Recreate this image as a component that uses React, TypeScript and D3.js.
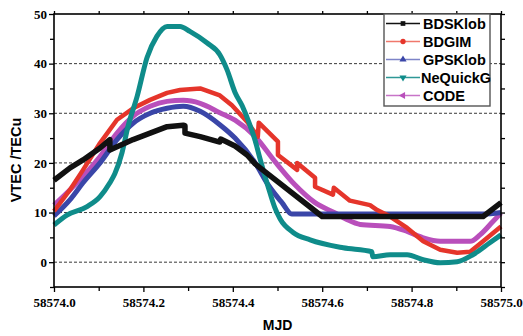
import * as d3 from 'd3'
import { useEffect, useRef } from 'react'

// MJD offsets from 58574.0 and VTEC (TECu)
const MJD0 = 58574;

const bdsTime = [0, 0.036, 0.065, 0.103, 0.125, 0.125, 0.177, 0.215, 0.253, 0.289, 0.293, 0.293, 0.327, 0.371, 0.373, 0.405, 0.432, 0.450, 0.461, 0.600, 0.960, 1.0];
const bdsTec = [16.5, 19.0, 20.6, 23.0, 24.7, 22.6, 24.7, 26.0, 27.3, 27.6, 27.5, 26.0, 25.3, 24.2, 24.8, 23.4, 21.6, 19.8, 19.0, 9.2, 9.2, 12.0];

const gimTime = [0, 0.036, 0.065, 0.103, 0.141, 0.177, 0.215, 0.253, 0.282, 0.327, 0.371, 0.398, 0.432, 0.456, 0.458, 0.501, 0.501, 0.544, 0.544, 0.584, 0.584, 0.624, 0.626, 0.662, 0.707, 0.723, 0.752, 0.790, 0.826, 0.864, 0.902, 0.931, 0.960, 1.0];
const gimTec = [10.3, 14.6, 18.6, 24.0, 28.7, 31.0, 32.7, 34.1, 34.7, 35.0, 33.6, 31.6, 28.3, 25.3, 28.1, 24.3, 21.6, 18.6, 20.0, 17.0, 15.2, 13.6, 15.0, 12.4, 11.5, 10.5, 9.2, 6.9, 4.2, 2.5, 1.9, 2.1, 4.2, 7.2];

const gpsTime = [0, 0.036, 0.065, 0.103, 0.141, 0.177, 0.215, 0.253, 0.289, 0.327, 0.371, 0.405, 0.450, 0.479, 0.510, 0.532, 0.960, 1.0];
const gpsTec = [9.3, 12.6, 16.0, 20.0, 24.7, 28.0, 30.0, 31.0, 31.4, 30.4, 27.7, 25.0, 20.0, 15.6, 12.0, 9.7, 9.7, 10.0];

const neqTime = [0, 0.029, 0.074, 0.103, 0.125, 0.136, 0.152, 0.166, 0.186, 0.208, 0.230, 0.253, 0.282, 0.304, 0.342, 0.371, 0.387, 0.405, 0.421, 0.438, 0.450, 0.461, 0.479, 0.494, 0.506, 0.535, 0.573, 0.647, 0.711, 0.713, 0.752, 0.790, 0.826, 0.864, 0.902, 0.937, 0.975, 1.0];
const neqTec = [7.5, 9.5, 11.2, 13.2, 16.0, 17.8, 22.0, 27.5, 33.4, 41.2, 45.5, 47.5, 47.5, 46.5, 44.2, 41.8, 38.8, 34.2, 31.5, 27.7, 24.5, 20.8, 15.2, 11.0, 8.7, 6.0, 4.5, 2.9, 2.1, 1.1, 1.5, 1.5, 0.5, -0.1, 0.1, 1.5, 3.9, 5.5];

const codeTime = [0, 0.036, 0.065, 0.103, 0.141, 0.177, 0.215, 0.253, 0.289, 0.327, 0.371, 0.405, 0.450, 0.494, 0.539, 0.584, 0.629, 0.655, 0.685, 0.752, 0.790, 0.826, 0.864, 0.931, 0.953, 0.982, 1.0];
const codeTec = [11.5, 14.6, 17.3, 21.3, 26.0, 29.4, 31.4, 32.4, 32.6, 32.0, 30.1, 28.6, 25.3, 20.3, 15.6, 12.0, 9.9, 8.6, 7.6, 7.2, 6.2, 4.9, 4.2, 4.2, 5.5, 8.2, 9.9];

const yTicks = [0, 10, 20, 30, 40, 50];
const yMinorTicks = [-5, 5, 15, 25, 35, 45];
const xTicks = [58574.0, 58574.2, 58574.4, 58574.6, 58574.8, 58575.0];
const xMinorTicks = [58574.1, 58574.3, 58574.5, 58574.7, 58574.9];
const gridValues = [0, 10, 20, 30, 40];

const serif = "'Liberation Serif', 'Times New Roman', serif";
const sans = "'Liberation Sans', Arial, sans-serif";

const App = () => {
    const ref = useRef<SVGSVGElement>(null);

    useEffect(() => {
        const width = 523;
        const height = 336;
        const margin = { top: 14, right: 22, bottom: 49, left: 54 };
        const innerWidth = width - margin.left - margin.right;
        const innerHeight = height - margin.top - margin.bottom;

        const root = d3.select(ref.current);
        root.selectAll('*').remove();

        const svg = root.append('g')
            .attr('transform', `translate(${margin.left},${margin.top})`);

        const x = d3.scaleLinear().domain([58574, 58575]).range([0, innerWidth]);
        const y = d3.scaleLinear().domain([-5, 50]).range([innerHeight, 0]);

        // dashed grid
        svg.selectAll('.grid')
            .data(gridValues)
            .enter().append('line')
            .attr('x1', 0).attr('x2', innerWidth)
            .attr('y1', d => y(d)).attr('y2', d => y(d))
            .attr('stroke', '#222')
            .attr('stroke-width', 0.9)
            .attr('stroke-dasharray', '3,2');

        const series = [
            { name: 'CODE', t: codeTime, v: codeTec, color: '#b94fbb', curve: d3.curveMonotoneX, width: 5 },
            { name: 'GPSKlob', t: gpsTime, v: gpsTec, color: '#3a46a8', curve: d3.curveMonotoneX, width: 5 },
            { name: 'BDGIM', t: gimTime, v: gimTec, color: '#e5352b', curve: d3.curveLinear, width: 4.5 },
            { name: 'NeQuickG', t: neqTime, v: neqTec, color: '#0f8c8a', curve: d3.curveMonotoneX, width: 5 },
            { name: 'BDSKlob', t: bdsTime, v: bdsTec, color: '#111111', curve: d3.curveLinear, width: 5.5 },
        ];

        series.forEach(s => {
            const line = d3.line<number>()
                .x((_, i) => x(MJD0 + s.t[i]))
                .y(d => y(d))
                .curve(s.curve);
            svg.append('path')
                .datum(s.v)
                .attr('fill', 'none')
                .attr('stroke', s.color)
                .attr('stroke-width', s.width)
                .attr('stroke-linejoin', 'round')
                .attr('d', line);
        });

        const styleAxis = (g: d3.Selection<SVGGElement, unknown, null, undefined>) => {
            g.select('.domain').remove();
            g.selectAll('line').attr('stroke', '#000').attr('stroke-width', 1.3);
            g.selectAll('text')
                .attr('fill', '#000')
                .attr('font-family', serif)
                .attr('font-weight', 'bold')
                .attr('font-size', '13px');
        };

        // left axis
        svg.append('g')
            .call(d3.axisLeft(y).tickValues(yTicks).tickSize(5).tickPadding(2).tickFormat(d3.format('d')))
            .call(styleAxis);
        svg.append('g')
            .call(d3.axisLeft(y).tickValues(yMinorTicks).tickSize(4).tickFormat(() => ''))
            .call(styleAxis);

        // right axis (ticks only)
        svg.append('g')
            .attr('transform', `translate(${innerWidth},0)`)
            .call(d3.axisRight(y).tickValues([...yTicks, ...yMinorTicks]).tickSize(4).tickFormat(() => ''))
            .call(styleAxis);

        // bottom axis
        svg.append('g')
            .attr('transform', `translate(0,${innerHeight})`)
            .call(d3.axisBottom(x).tickValues(xTicks).tickSize(5).tickPadding(6).tickFormat(d3.format('.1f')))
            .call(styleAxis);
        svg.append('g')
            .attr('transform', `translate(0,${innerHeight})`)
            .call(d3.axisBottom(x).tickValues(xMinorTicks).tickSize(4).tickFormat(() => ''))
            .call(styleAxis);

        // top axis (ticks only)
        svg.append('g')
            .call(d3.axisTop(x).tickValues([...xTicks, ...xMinorTicks]).tickSize(3).tickFormat(() => ''))
            .call(styleAxis);

        // frame
        svg.append('rect')
            .attr('x', 0).attr('y', 0)
            .attr('width', innerWidth).attr('height', innerHeight)
            .attr('fill', 'none')
            .attr('stroke', '#000')
            .attr('stroke-width', 1.6);

        // axis titles
        svg.append('text')
            .attr('text-anchor', 'middle')
            .attr('font-family', sans)
            .attr('font-weight', 'bold')
            .attr('font-size', '14px')
            .attr('x', innerWidth / 2)
            .attr('y', innerHeight + 43)
            .text('MJD');

        svg.append('text')
            .attr('text-anchor', 'middle')
            .attr('font-family', sans)
            .attr('font-weight', 'bold')
            .attr('font-size', '14.5px')
            .attr('transform', `translate(${21 - margin.left},${160 - margin.top}) rotate(-90)`)
            .text('VTEC /TECu');

        // legend
        const legendItems = [
            { name: 'BDSKlob', line: '#111111', color: '#111111', symbol: d3.symbolSquare, rotate: 0 },
            { name: 'BDGIM', line: '#f0786c', color: '#e5352b', symbol: d3.symbolCircle, rotate: 0 },
            { name: 'GPSKlob', line: '#7d84c8', color: '#3a46a8', symbol: d3.symbolTriangle, rotate: 0 },
            { name: 'NeQuickG', line: '#2e9896', color: '#0f8c8a', symbol: d3.symbolTriangle, rotate: 180 },
            { name: 'CODE', line: '#c874c8', color: '#b94fbb', symbol: d3.symbolTriangle, rotate: -90 },
        ];

        const legend = svg.append('g')
            .attr('transform', `translate(${innerWidth - 117}, 0)`);

        legend.append('rect')
            .attr('x', 0).attr('y', 0)
            .attr('width', 106).attr('height', 92)
            .attr('fill', '#fff')
            .attr('stroke', '#555')
            .attr('stroke-width', 1.4);

        legendItems.forEach((item, i) => {
            const ly = 9.5 + i * 18;
            legend.append('line')
                .attr('x1', 2).attr('x2', 36)
                .attr('y1', ly).attr('y2', ly)
                .attr('stroke', item.line)
                .attr('stroke-width', 1.3);
            legend.append('path')
                .attr('d', d3.symbol().type(item.symbol).size(22)())
                .attr('transform', `translate(19,${ly}) rotate(${item.rotate})`)
                .attr('fill', item.color);
            legend.append('text')
                .attr('x', item.name === 'NeQuickG' ? 37 : 39)
                .attr('y', ly)
                .attr('dy', '0.36em')
                .attr('font-family', sans)
                .attr('font-weight', 'bold')
                .attr('font-size', '14.5px')
                .text(item.name);
        });
    }, []);

    return (
        <svg ref={ref} width={523} height={336} style={{ position: 'absolute', left: 0, top: 0, background: '#fff' }}></svg>
    );
};

export default App;
